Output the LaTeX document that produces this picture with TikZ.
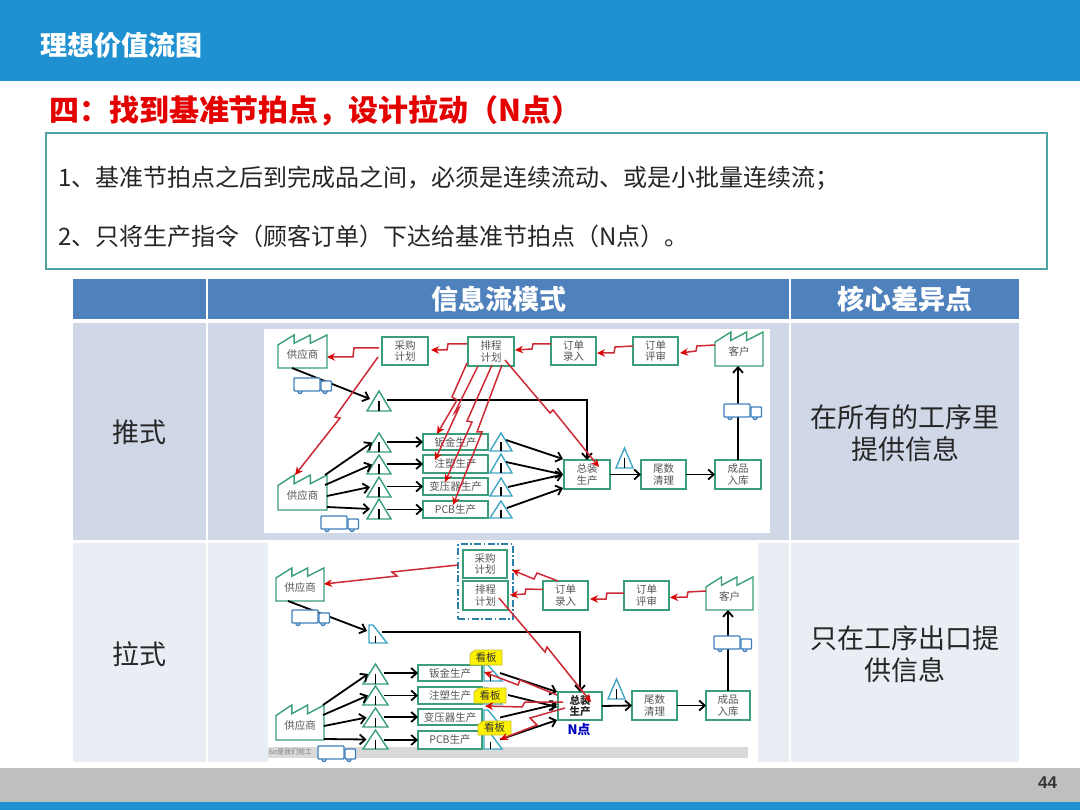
\documentclass[tikz,border=0pt]{standalone}
\usepackage{fontspec}
\setmainfont{Noto Sans CJK SC}
\newfontfamily\numfont{Liberation Sans}
\usetikzlibrary{arrows.meta}
\definecolor{band}{HTML}{2091D0}
\definecolor{hdr}{HTML}{4F81BD}
\definecolor{rowa}{HTML}{D0D8E8}
\definecolor{rowb}{HTML}{E9EDF4}
\definecolor{vsmgreen}{HTML}{3A9E78}
\definecolor{vsmblue}{HTML}{3F80BC}
\definecolor{vsmcyan}{HTML}{3FA6C4}
\definecolor{vsmred}{HTML}{CC2A35}
\definecolor{lbl}{HTML}{555555}
\definecolor{introline}{HTML}{4FA3A3}
\tikzset{
 cell/.style={inner sep=0pt,outer sep=0pt,align=center},
 sbox/.style={draw=vsmgreen,line width=1.4pt,fill=white,inner sep=0pt,outer sep=0pt,align=center,font=\fontsize{10.5}{11.5}\selectfont,text=lbl},
 hidden/.style={inner sep=0pt,outer sep=0pt,align=center,font=\fontsize{10.5}{11.5}\selectfont,text=lbl},
 flow/.style={draw=black,line width=1.8pt,-{Straight Barb[length=5.5pt,width=10pt,line width=1.8pt]}},
 sig/.style={draw=vsmred,line width=1.5pt,-{Stealth[length=8pt,width=7.5pt,color=red!85!black]}},
 outl/.style={line width=1.4pt,line join=miter},
 truckln/.style={draw=vsmblue,line width=1.4pt,fill=white},
}
% rectangle node from corners
\newcommand{\rnode}[6]{\node[sbox,minimum width={(#4-#2)*1pt},minimum height={(#5-#3)*1pt}] (#1) at ({(#2+#4)/2},{(#3+#5)/2}) {#6};}
% factory
\newcommand{\factory}[6]{
 \draw[outl,draw=vsmgreen,fill=white] (#2,#5) -- (#2,{#3+(#5-#3)*0.3}) -- ({#2+(#4-#2)*0.33},#3) -- ({#2+(#4-#2)*0.33},{#3+(#5-#3)*0.25}) -- ({#2+(#4-#2)*0.66},#3) -- ({#2+(#4-#2)*0.66},{#3+(#5-#3)*0.25}) -- (#4,#3) -- (#4,#5) -- cycle;
 \node[hidden,minimum width={(#4-#2)*1pt},minimum height={(#5-#3)*1pt}] (#1) at ({(#2+#4)/2},{(#3+#5)/2}) {\raisebox{-7pt}[4pt][4pt]{#6}};}
% inventory triangle
\newcommand{\tri}[6]{
 \node[hidden,minimum width={(#4-#2)*1pt},minimum height={(#5-#3)*1pt}] (#1) at ({(#2+#4)/2},{(#3+#5)/2}) {};
 \draw[outl,draw=#6,fill=white] (#2,#5) -- ({(#2+#4)/2},#3) -- (#4,#5) -- cycle;
 \draw[line width=1.3pt] ({(#2+#4)/2},{(#3+#5)/2}) -- ({(#2+#4)/2},#5);}
% right-angled triangle
\newcommand{\rtri}[6]{
 \node[hidden,minimum width={(#4-#2)*1pt},minimum height={(#5-#3)*1pt}] (#1) at ({(#2+#4)/2},{(#3+#5)/2}) {};
 \draw[outl,draw=#6,fill=white] (#2,#5) -- (#2,#3) -- ({#2+4},#3) -- (#4,#5) -- cycle;
 \draw[line width=1.3pt] ({#2+(#4-#2)*0.35},{(#3+#5)/2+2}) -- ({#2+(#4-#2)*0.35},#5);}
% truck
\newcommand{\truck}[3]{
 \begin{scope}[shift={(#2,#3)}]
  \node[hidden,minimum width=38pt,minimum height=15pt] (#1) at (19,7.5) {};
  \draw[truckln] (6,13.5) circle (2pt);
  \draw[truckln] (31,13.5) circle (2pt);
  \draw[truckln,rounded corners=0.8pt] (0,0) rectangle (26,13);
  \draw[truckln,rounded corners=0.8pt] (27,3) rectangle (37.5,13);
 \end{scope}}
% kanban tag
\newcommand{\kbtag}[6]{
 \draw[draw=yellow!75!black,line width=0.8pt,fill=yellow] ({#2+5},#3) -- (#4,#3) -- (#4,#5) -- (#2,#5) -- (#2,{#3+4}) -- cycle;
 \node[hidden,text=black!80,minimum width={(#4-#2)*1pt},minimum height={(#5-#3)*1pt}] (#1) at ({(#2+#4)/2},{(#3+#5)/2}) {#6};}
\begin{document}
\begin{tikzpicture}[x=1pt,y=-1pt]
\useasboundingbox (0,0) rectangle (1080,810);
\fill[white] (0,0) rectangle (1080,810);
% slide furniture
\fill[band] (0,0) rectangle (1080,81);
\fill[black!25] (0,768) rectangle (1080,802);
\fill[band] (0,802) rectangle (1080,810);
\node[cell,anchor=west,text=white,font=\fontsize{27}{30}\selectfont\bfseries] (title) at (41,45) {理想价值流图};
\node[cell,anchor=west,text=red!90!black,font=\fontsize{30}{33}\selectfont\bfseries] (head) at (49,111) {四：找到基准节拍点，设计拉动（N点）};
\node[cell,draw=introline,line width=1.2pt,fill=white,minimum width=1001pt,minimum height=136pt] (intro) at (546.5,201) {};
\node[cell,anchor=west,text=black!85,font=\fontsize{24}{26}\selectfont] (l1) at (58,178) {1、基准节拍点之后到完成品之间，必须是连续流动、或是小批量连续流；};
\node[cell,anchor=west,text=black!85,font=\fontsize{24}{26}\selectfont] (l2) at (58,236) {2、只将生产指令（顾客订单）下达给基准节拍点（N点）。};
\node[cell,anchor=east,font=\numfont\fontsize{17}{20}\selectfont\bfseries,text=black!80] (pg) at (1057,783) {44};
% table
\fill[hdr] (73,279) rectangle (206,319);
\fill[hdr] (208,279) rectangle (789,319);
\fill[hdr] (791,279) rectangle (1019,319);
\fill[rowa] (73,323) rectangle (206,540);
\fill[rowa] (208,323) rectangle (789,540);
\fill[rowa] (791,323) rectangle (1019,540);
\fill[rowb] (73,543) rectangle (206,762);
\fill[rowb] (208,543) rectangle (789,762);
\fill[rowb] (791,543) rectangle (1019,762);
\node[cell,text=white,font=\fontsize{27}{30}\selectfont\bfseries] (h1) at (498.5,299) {信息流模式};
\node[cell,text=white,font=\fontsize{27}{30}\selectfont\bfseries] (h2) at (905,299) {核心差异点};
\node[cell,text=black!85,font=\fontsize{27}{31}\selectfont] (push) at (139.5,432) {推式};
\node[cell,text=black!85,font=\fontsize{27}{32}\selectfont] (pushd) at (905,433) {在所有的工序里\\提供信息};
\node[cell,text=black!85,font=\fontsize{27}{31}\selectfont] (pull) at (139.5,654) {拉式};
\node[cell,text=black!85,font=\fontsize{27}{32}\selectfont] (pulld) at (905,654) {只在工序出口提\\供信息};
\fill[white] (264,329) rectangle (770,533);
\fill[white] (268,543) rectangle (758,762);
\fill[black!15] (268,747) rectangle (748,758);
\node[cell,anchor=west,text=black!50,font=\fontsize{7}{8}\selectfont] (six) at (269,752) {6σ是我们前工};

% ===== PUSH =====
\factory{sA}{278}{335}{327}{368}{供应商}
\rnode{plA}{382}{337}{428}{365}{采购\\计划}
\rnode{scA}{468}{337}{514}{366}{排程\\计划}
\rnode{inA}{551}{337}{596}{365}{订单\\录入}
\rnode{rvA}{633}{337}{678}{365}{订单\\评审}
\factory{cuA}{715}{332}{763}{366}{客户}
\factory{sB}{278}{475}{327}{510}{供应商}
\tri{tA}{367}{391}{391}{411}{vsmgreen}
\tri{tA1}{367}{433}{391}{452}{vsmgreen}
\tri{tA2}{367}{455}{391}{474}{vsmgreen}
\tri{tA3}{367}{477}{391}{497}{vsmgreen}
\tri{tA4}{367}{499}{391}{519}{vsmgreen}
\rnode{bA1}{423}{434}{488}{450}{钣金生产}
\rnode{bA2}{423}{455}{488}{473}{注塑生产}
\rnode{bA3}{423}{478}{488}{495}{变压器生产}
\rnode{bA4}{423}{501}{488}{518}{PCB生产}
\tri{rA1}{490}{433}{512}{451}{vsmcyan}
\tri{rA2}{490}{454}{512}{473}{vsmcyan}
\tri{rA3}{490}{478}{512}{496}{vsmcyan}
\tri{rA4}{490}{501}{512}{518}{vsmcyan}
\rnode{toA}{564}{460}{610}{489}{总装\\生产}
\rnode{taA}{641}{460}{686}{489}{尾数\\清理}
\rnode{fiA}{715}{460}{761}{489}{成品\\入库}
\tri{twA}{616}{448}{633}{468}{vsmcyan}
% flows
\draw[flow] ([xshift=14pt]sA.south west) -- ([shift={(3,-2)}]tA.west);
\draw[flow] ([shift={(8,-1)}]tA.center) -| (toA.north);
\draw[flow] ([xshift=-2pt]sB.north east) -- ([xshift=-7pt]tA1.center);
\draw[flow] ([shift={(-2,-7.5)}]sB.east) -- ([xshift=-7pt]tA2.center);
\draw[flow] ([shift={(0,3.5)}]sB.east) -- ([xshift=-9pt]tA3.center);
\draw[flow] ([shift={(0,14.5)}]sB.east) -- ([xshift=-9pt]tA4.center);
\foreach \i in {1,2,3,4}{\draw[flow] ([xshift=8pt]tA\i.center |- bA\i.west) -- (bA\i.west);}
\draw[flow] ([shift={(5,-2)}]rA1.center) -- ([shift={(-1,-1)}]toA.north west);
\draw[flow] ([shift={(5,-1.5)}]rA2.center) -- ([xshift=-1pt]toA.west);
\draw[flow] ([xshift=7pt]rA3.center) -- ([xshift=-1pt]toA.west);
\draw[flow] ([shift={(6,-1.5)}]rA4.center) -- ([shift={(-1,-1)}]toA.south west);
\draw[flow] (toA.east) -- (taA.west);
\draw[flow] (taA.east) -- (fiA.west);
\draw[flow] (fiA.north) -- (fiA.north |- cuA.south);
% signals
\draw[sig] ([shift={(-1,-7.5)}]scA.west) -- (448,344) -- (447,350) -- ([shift={(3,-1)}]plA.east);
\draw[sig] ([shift={(-3,-3)}]plA.west) -- (354,348) -- (353,357) -- ([shift={(0,5.5)}]sA.east);
\draw[sig] ([shift={(0,-7)}]inA.west) -- (533,344) -- (532,349) -- ([shift={(1,-1.5)}]scA.east);
\draw[sig] ([shift={(0,-5)}]rvA.west) -- (615,347) -- (614,353) -- ([shift={(1,2)}]inA.east);
\draw[sig] ([shift={(0,-4)}]cuA.west) -- (697,346) -- (696,351) -- ([shift={(2,2)}]rvA.east);
\draw[sig] ([shift={(-4,6)}]plA.west) -- (335,417) -- (340,418) -- ([shift={(17,0)}]sB.north west);
\draw[sig] ([shift={(-1,11.5)}]scA.west) -- (452,397) -- (457,400) -- ([xshift=14pt]bA1.north west);
\draw[sig] ([shift={(10,0)}]scA.south west) -- (455,412) -- (459,408) -- ([shift={(12,5)}]bA2.north west);
\draw[sig] ([shift={(24,-1)}]scA.south west) -- (467,421) -- (472,422) -- ([shift={(22,4)}]bA3.north west);
\draw[sig] ([shift={(34,-1)}]scA.south west) -- (477,432) -- (482,432) -- ([shift={(30,4)}]bA4.north west);
\draw[sig] ([shift={(-9,-6)}]scA.south east) -- (550,413) -- (553,410) -- ([shift={(12,7)}]toA.north);

% ===== PULL =====
\factory{sC}{276}{568}{324}{601}{供应商}
\node[sbox,fill=none,draw=vsmblue!70!teal,line width=1.6pt,dash pattern=on 7pt off 2.5pt on 1.5pt off 2.5pt,minimum width=55pt,minimum height=75pt] (grp) at (485.5,581.5) {};
\rnode{plB}{463}{550}{507}{578}{采购\\计划}
\rnode{scB}{463}{581}{508}{610}{排程\\计划}
\rnode{inB}{543}{581}{588}{610}{订单\\录入}
\rnode{rvB}{624}{581}{669}{610}{订单\\评审}
\factory{cuB}{706}{577}{753}{610}{客户}
\factory{sD}{276}{705}{324}{740}{供应商}
\rtri{tB}{369}{625}{387}{643}{vsmcyan}
\tri{tB1}{363}{664}{388}{684}{vsmgreen}
\tri{tB2}{363}{686}{388}{705}{vsmgreen}
\tri{tB3}{363}{708}{388}{727}{vsmgreen}
\tri{tB4}{363}{730}{388}{749}{vsmgreen}
\rnode{bB1}{418}{665}{482}{681}{钣金生产}
\rnode{bB2}{418}{687}{482}{704}{注塑生产}
\rnode{bB3}{418}{709}{482}{725}{变压器生产}
\rnode{bB4}{418}{731}{482}{749}{PCB生产}
\rtri{rB1}{484}{665}{502}{681}{vsmcyan}
\rtri{rB2}{484}{688}{502}{704}{vsmcyan}
\rtri{rB3}{484}{710}{502}{727}{vsmcyan}
\rtri{rB4}{484}{730}{502}{749}{vsmcyan}
\rnode{toB}{558}{692}{602}{720}{\textcolor{black!85}{\bfseries 总装}\\\textcolor{black!85}{\bfseries 生产}}
\rnode{taB}{632}{691}{677}{720}{尾数\\清理}
\rnode{fiB}{706}{691}{750}{720}{成品\\入库}
\tri{twB}{608}{679}{625}{699}{vsmcyan}
\node[cell,text=blue!75!black,font=\fontsize{13}{15}\selectfont\bfseries] (npt) at (579,730) {N点};
% flows
\draw[flow] ([xshift=12pt]sC.south west) -- ([shift={(-11,-3)}]tB.center);
\draw[flow] ([shift={(-5,-2)}]tB.east) -| (toB.north);
\draw[flow] ([xshift=-1pt]sD.north east) -- ([xshift=-7.5pt]tB1.center);
\draw[flow] ([shift={(-1,-7.5)}]sD.east) -- ([xshift=-7.5pt]tB2.center);
\draw[flow] ([shift={(0,3.5)}]sD.east) -- ([xshift=-9pt]tB3.center);
\draw[flow] ([shift={(0,16.5)}]sD.east) -- ([xshift=-9pt]tB4.center);
\foreach \i in {1,2,3,4}{\draw[flow] ([xshift=8pt]tB\i.center |- bB\i.west) -- (bB\i.west);}
\draw[flow] ([shift={(7,0)}]rB1.center) -- ([shift={(-1,0)}]toB.north west);
\draw[flow] ([shift={(15,-1)}]rB2.center) -- ([shift={(-1,1)}]toB.west);
\draw[flow] ([shift={(7,-1)}]rB3.center) -- ([shift={(-1,-2)}]toB.west);
\draw[flow] ([shift={(7,0)}]rB4.center) -- ([xshift=-1pt]toB.south west);
\draw[flow] (toB.east) -- (taB.west);
\draw[flow] (taB.east) -- (fiB.west);
\draw[flow] (fiB.north) -- (fiB.north |- cuB.south);
% kanban
\kbtag{kb1}{470}{650}{502}{665}{看板}
\kbtag{kb2}{474}{688}{506}{703}{看板}
\kbtag{kb3}{478}{721}{511}{735}{看板}
% signals
\draw[sig] ([shift={(0,-6)}]inB.west) -- (526,589) -- (525,594) -- ([shift={(2,-0.5)}]scB.east);
\draw[sig] ([xshift=15pt]inB.north west) -- (537,573) -- (534,579) -- ([shift={(5,6)}]plB.east);
\draw[sig] ([shift={(0,-2.5)}]rvB.west) -- (607,593) -- (606,599) -- ([shift={(2,3.5)}]inB.east);
\draw[sig] ([shift={(0,-2.5)}]cuB.west) -- (688,592) -- (687,597) -- ([shift={(1,2)}]rvB.east);
\draw[sig] ([shift={(0,-16.5)}]grp.west) -- (392,572) -- (397,576) -- ([shift={(0,-0.5)}]sC.east);
\draw[sig] ([shift={(-9,-12)}]scB.south east) -- (545,652) -- (547,647) -- ([shift={(11,-4)}]toB.center);
\draw[sig] ([shift={(-1,-11)}]toB.west) -- (520,680) -- (518,685) -- ([shift={(2,-1)}]bB1.east);
\draw[sig] ([shift={(5,-4)}]toB.west) -- (525,702) -- (522,707) -- ([shift={(3,10.5)}]bB2.east);
\draw[sig] ([shift={(7,2)}]toB.west) -- (530,718) -- (537,725) -- ([shift={(-2,0)}]rB4.east);
% trucks
\truck{trA}{294}{378}
\truck{trB}{321}{516}
\truck{trC}{724}{404}
\truck{trD}{292}{610}
\truck{trE}{318}{746}
\truck{trF}{714}{636}
\end{tikzpicture}
\end{document}
